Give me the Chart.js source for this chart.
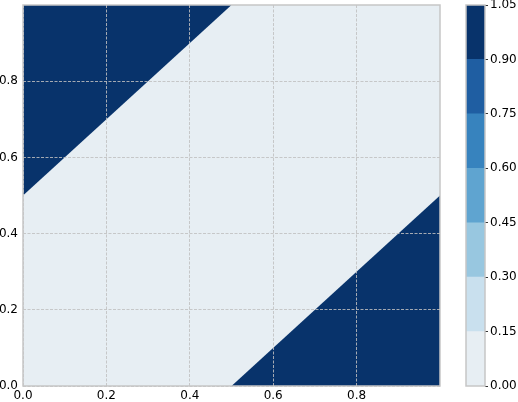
<!DOCTYPE html>
<html>
<head>
<meta charset="utf-8">
<script src="https://cdn.jsdelivr.net/npm/chart.js@4/dist/chart.umd.min.js"></script>
<style>
  html, body { margin: 0; padding: 0; background: #fff; }
  #wrap { position: relative; width: 518px; height: 402px; overflow: hidden; }
  #main { position: absolute; left: 0; top: 0; }
  #cbar { position: absolute; left: 450px; top: 0; }
</style>
</head>
<body>
<div id="wrap">
  <canvas id="main" width="450" height="402"></canvas>
  <canvas id="cbar" width="68" height="402"></canvas>
</div>
<script>
// contour levels and their colours (Blues)
const levels = [0, 0.15, 0.30, 0.45, 0.60, 0.75, 0.90, 1.05];
const levelColors = ['#e7eef3', '#c9e0ee', '#98c7e0', '#5fa4d0', '#3783be', '#1f5ea2', '#08336b'];

const xTicks = [0, 0.2, 0.4, 0.6, 0.8];
const yTicks = [0, 0.2, 0.4, 0.6, 0.8];

// boundaries of the two high-value regions (value 1), rest of the field is 0
const upperX = [0, 0.5];
const upperY = [0.5, 1.0];
const lowerX = [0.5, 1.0];
const lowerY = [0, 0.5];
const regionValue = 1;
const fieldValue = 0;

function colorFor(v) {
    for (let i = 0; i < levelColors.length; i++) {
        if (v >= levels[i] && v < levels[i + 1]) return levelColors[i];
    }
    return levelColors[levelColors.length - 1];
}

Chart.defaults.font.family = 'DejaVu Sans';
Chart.defaults.font.size = 12;
Chart.defaults.color = '#000';

const areaBg = {
    id: 'areaBg',
    beforeDraw(chart) {
        const a = chart.chartArea, ctx = chart.ctx;
        ctx.save();
        ctx.fillStyle = colorFor(fieldValue);
        ctx.fillRect(a.left, a.top, a.right - a.left, a.bottom - a.top);
        ctx.restore();
    }
};

const frame = {
    id: 'frame',
    afterDraw(chart) {
        const a = chart.chartArea, ctx = chart.ctx;
        ctx.save();
        ctx.strokeStyle = '#c6c6c6';
        ctx.lineWidth = 1.5;
        ctx.strokeRect(a.left, a.top, a.right - a.left, a.bottom - a.top);
        ctx.restore();
    }
};

const pts = (xs, ys) => xs.map((x, i) => ({ x: x, y: ys[i] }));

new Chart(document.getElementById('main'), {
    type: 'line',
    data: {
        datasets: [
            {
                data: pts(upperX, upperY),
                fill: 'end',
                backgroundColor: colorFor(regionValue),
                borderWidth: 0,
                pointRadius: 0
            },
            {
                data: pts(lowerX, lowerY),
                fill: 'start',
                backgroundColor: colorFor(regionValue),
                borderWidth: 0,
                pointRadius: 0
            }
        ]
    },
    options: {
        responsive: false,
        animation: false,
        layout: { padding: { top: 5, right: 10, left: 0, bottom: 0 } },
        plugins: { legend: { display: false }, tooltip: { enabled: false } },
        scales: {
            x: {
                type: 'linear',
                min: 0,
                max: 1,
                afterBuildTicks: s => { s.ticks = xTicks.map(v => ({ value: v })); },
                afterFit: s => { s.height = 16; s.paddingLeft = 0; s.paddingRight = 0; },
                ticks: { padding: 3, maxRotation: 0, autoSkip: false, callback: v => v.toFixed(1) },
                grid: { z: 1, color: 'rgba(192,192,192,0.85)', lineWidth: 1, drawTicks: false },
                border: { display: false, dash: [3, 1.5] }
            },
            y: {
                type: 'linear',
                min: 0,
                max: 1,
                afterBuildTicks: s => { s.ticks = yTicks.map(v => ({ value: v })); },
                afterFit: s => { s.width = 23; s.paddingTop = 0; s.paddingBottom = 0; },
                ticks: { padding: 5, autoSkip: false, callback: v => v.toFixed(1) },
                grid: { z: 1, color: 'rgba(192,192,192,0.85)', lineWidth: 1, drawTicks: false },
                border: { display: false, dash: [3, 1.5] }
            }
        }
    },
    plugins: [areaBg, frame]
});

// colour bar
new Chart(document.getElementById('cbar'), {
    type: 'bar',
    data: {
        labels: [''],
        datasets: levelColors.map((c, i) => ({
            data: [[levels[i], levels[i + 1]]],
            backgroundColor: c,
            borderWidth: 0,
            barPercentage: 1,
            categoryPercentage: 1
        }))
    },
    options: {
        responsive: false,
        animation: false,
        layout: { padding: { top: 5, right: 0, left: 16, bottom: 16 } },
        plugins: { legend: { display: false }, tooltip: { enabled: false } },
        scales: {
            x: { display: false, stacked: true },
            y: {
                position: 'right',
                min: levels[0],
                max: levels[levels.length - 1],
                afterBuildTicks: s => { s.ticks = levels.map(v => ({ value: v })); },
                afterFit: s => { s.width = 33; s.paddingTop = 0; s.paddingBottom = 0; },
                ticks: { padding: 2, autoSkip: false, callback: v => v.toFixed(2) },
                grid: { drawOnChartArea: false, drawTicks: true, tickLength: 3, color: '#333' },
                border: { display: false }
            }
        }
    },
    plugins: [frame]
});
</script>
</body>
</html>
